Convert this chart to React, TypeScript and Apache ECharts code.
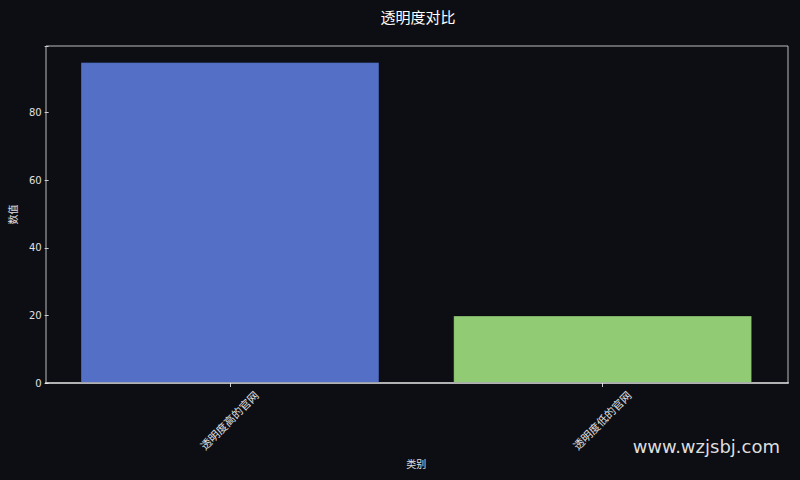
import React, { useEffect, useRef } from 'react';
import * as echarts from 'echarts';

const categories = ['透明度高的官网', '透明度低的官网'];
const values = [95, 20];
const barColors = ['#5470c6', '#91cc75'];
const yTicks = [0, 20, 40, 60, 80];

const FONT = "'DejaVu Sans', 'Noto Sans CJK SC', sans-serif";

const App: React.FC = () => {
  const chartRef = useRef<HTMLDivElement>(null);

  useEffect(() => {
    document.body.style.margin = '0';
    const chart = echarts.init(chartRef.current!, null, { renderer: 'svg' });

    const options = {
      animation: false,
      backgroundColor: '#0c0e14',
      textStyle: { fontFamily: FONT },
      // grid is a bit wider than the drawn frame so category centres land where matplotlib put them
      grid: { left: 41, top: 46, right: 11, bottom: 97, containLabel: false },
      xAxis: {
        type: 'category',
        data: categories,
        boundaryGap: true,
        name: '类别',
        nameLocation: 'middle',
        nameGap: 74,
        nameTextStyle: { color: '#e0e0e0', fontSize: 10 },
        axisLine: { show: false },
        axisTick: { show: true, alignWithLabel: true, length: 4, lineStyle: { color: '#cccccc' } },
        axisLabel: {
          rotate: 45,
          color: '#e0e0e0',
          fontSize: 11,
          margin: 38,
          align: 'center',
          verticalAlign: 'middle',
        },
      },
      yAxis: {
        type: 'value',
        min: 0,
        max: 99.75,
        interval: 20,
        offset: -5,
        name: '数值',
        nameLocation: 'middle',
        nameGap: 28,
        nameRotate: 90,
        nameTextStyle: { color: '#e0e0e0', fontSize: 10 },
        axisLine: { show: false },
        axisTick: { show: true, length: 4, lineStyle: { color: '#cccccc' } },
        axisLabel: {
          color: '#e0e0e0',
          fontSize: 10,
          margin: 7,
          formatter: (v: number) => (yTicks.includes(v) ? String(v) : ''),
        },
        splitLine: { show: false },
      },
      graphic: [
        {
          type: 'text',
          x: 418,
          y: 10,
          style: {
            text: '透明度对比',
            fill: '#ffffff',
            fontSize: 15,
            fontFamily: FONT,
            textAlign: 'center',
          },
        },
        {
          type: 'rect',
          shape: { x: 46, y: 46, width: 742, height: 337 },
          style: { fill: 'none', stroke: '#bbbbbb', lineWidth: 1 },
          silent: true,
          z: 0,
        },
        {
          type: 'line',
          shape: { x1: 45, y1: 383, x2: 789, y2: 383 },
          style: { stroke: '#ffffff', lineWidth: 1.2 },
          silent: true,
          z: 10,
        },
        {
          type: 'text',
          right: 20,
          top: 437,
          style: {
            text: 'www.wzjsbj.com',
            fill: '#dddddd',
            fontSize: 18,
            fontFamily: FONT,
          },
          z: 100,
        },
      ],
      series: [
        {
          type: 'bar',
          barWidth: 299,
          data: values.map((v, i) => ({
            value: v,
            itemStyle: {
              color: barColors[i],
              borderColor: 'rgba(0,0,0,0.35)',
              borderWidth: 1,
            },
          })),
        },
      ],
    };

    chart.setOption(options);

    return () => {
      chart.dispose();
    };
  }, []);

  return <div ref={chartRef} style={{ width: '800px', height: '480px' }} />;
};

export default App;
